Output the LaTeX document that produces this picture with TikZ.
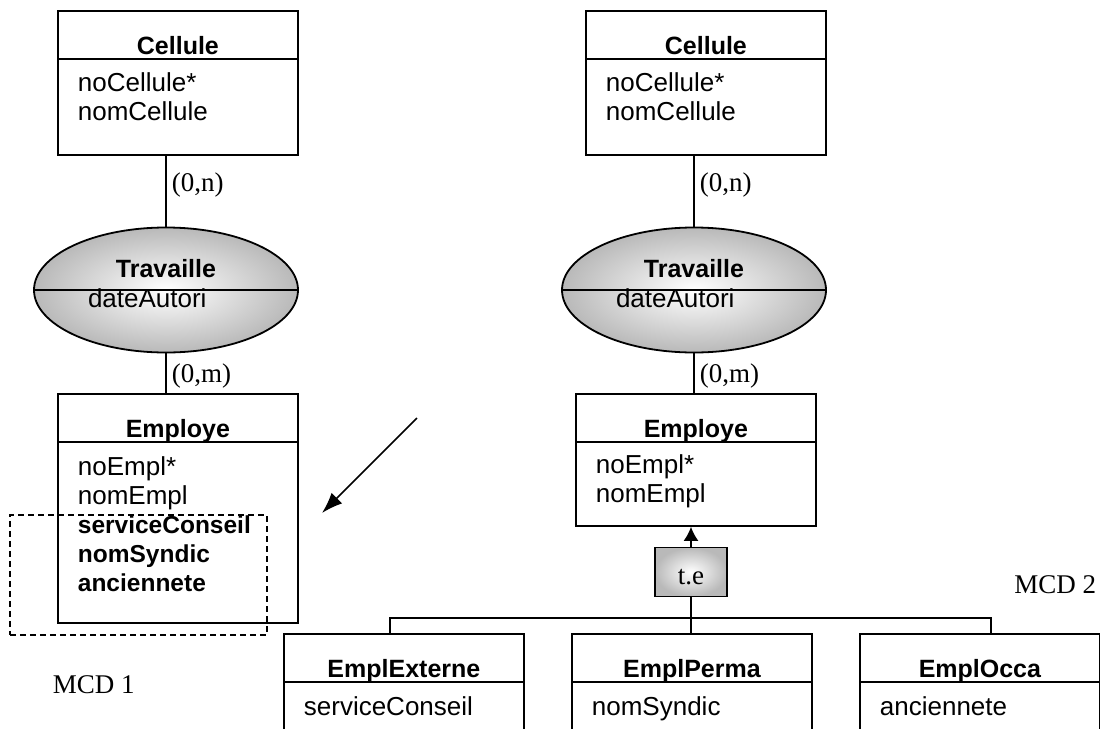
\documentclass[tikz,border=0pt]{standalone}
\usepackage{fontspec}
\setmainfont{Liberation Serif}
\setsansfont{Liberation Sans}
\usetikzlibrary{shapes.geometric, arrows.meta}

\begin{document}
\begin{tikzpicture}[x=1pt, y=-1pt, line width=1.8pt,
      box/.style={draw, minimum width=240pt, inner sep=0pt, anchor=north west},
      asso/.style={ellipse, draw, minimum width=264pt, minimum height=125pt, inner sep=0pt,
        shading=radial, inner color=white, outer color=gray!55},
      ttl/.style={font=\sffamily\bfseries\fontsize{25}{29}\selectfont, anchor=base, inner sep=0pt},
      attr/.style={font=\sffamily\fontsize{26}{29}\selectfont, anchor=base west, inner sep=0pt},
      battr/.style={attr, font=\sffamily\bfseries\fontsize{24.5}{29}\selectfont},
      card/.style={font=\fontsize{27}{30}\selectfont, anchor=base west, inner sep=0pt}]
      \clip (0,0) rectangle (1100,728);
      % MCD 1
      \node[box, minimum height=144] (cel1) at (57,10) {};
      \node[asso] (trav1) at (166,290) {};
      \node[box, minimum height=229] (emp1) at (57,393) {};
      % MCD 2
      \node[box, minimum height=144] (cel2) at (585,10) {};
      \node[asso] (trav2) at (694,290) {};
      \node[box, minimum height=132] (emp2) at (575,393) {};
      \node[draw, minimum width=72, minimum height=49, text height=24, text depth=0,
        shading=radial, inner color=white, outer color=gray!55,
        font=\fontsize{27}{30}\selectfont] (te) at (691,572) {t.e};
      \node[box, minimum height=130] (ext) at (283,633) {};
      \node[box, minimum height=130] (perma) at (571,633) {};
      \node[box, minimum height=130] (occa) at (859,633) {};

      \foreach \b/\t in {cel1/Cellule, cel2/Cellule, emp1/Employe, emp2/Employe,
          ext/EmplExterne, perma/EmplPerma, occa/EmplOcca}{
        \draw ([yshift=-49]\b.north west) -- ([yshift=-49]\b.north east);
        \node[ttl] (ttl-\b) at ([yshift=-44]\b.north) {\t};
      }
      \foreach \a in {trav1, trav2}{
        \draw (\a.west) -- (\a.east);
        \node[ttl] (ttl-\a) at ([yshift=13]\a.center) {Travaille};
        \node[attr] (att-\a) at ([xshift=54,yshift=-17]\a.west) {dateAutori};
      }

      % attributes, one node per line
      \foreach \b/\s/\t [count=\i] in {cel1/attr/noCellule*, cel1/attr/nomCellule,
          cel2/attr/noCellule*, cel2/attr/nomCellule}
        \node[\s] (att-\i) at ([xshift=20,yshift={-81-29*mod(\i+1,2)}]\b.north west) {\t};
      \foreach \s/\t [count=\i] in {attr/noEmpl*, attr/nomEmpl, battr/serviceConseil,
          battr/nomSyndic, battr/anciennete}
        \node[\s] (att-emp1-\i) at ([xshift=20,yshift={-82-29*(\i-1)}]emp1.north west) {\t};
      \node[attr] (att-emp2-1) at ([xshift=20,yshift=-80]emp2.north west) {noEmpl*};
      \node[attr] (att-emp2-2) at ([xshift=20,yshift=-109]emp2.north west) {nomEmpl};
      \node[attr] (att-ext) at ([xshift=20,yshift=-82]ext.north west) {serviceConseil};
      \node[attr] (att-perma) at ([xshift=20,yshift=-82]perma.north west) {nomSyndic};
      \node[attr] (att-occa) at ([xshift=20,yshift=-82]occa.north west) {anciennete};

      % links and cardinalities
      \foreach \c/\a/\e in {cel1/trav1/emp1, cel2/trav2/emp2}{
        \draw (\c.south -| \a.north) -- (\a.north);
        \draw (\a.south) -- (\a.south |- \e.north);
        \node[card] (n-\a) at ([xshift=5,yshift=-36]\c.south -| \a.north) {(0,n)};
        \node[card] (m-\a) at ([xshift=5,yshift=11]\e.north -| \a.south) {(0,m)};
      }

      % specialisation
      \draw[-{Latex[length=14pt,width=15pt]}] (te.north) -- (te.north |- emp2.south);
      \draw (te.south) -- (te.south |- perma.north);
      \coordinate (fork) at (691,618);
      \draw ([xshift=-14]ext.north) |- (fork) -| ([xshift=11]occa.north);

      % regrouped attributes
      \node[draw, line width=1.7pt, dash pattern=on 6pt off 4pt, minimum width=257, minimum height=120,
        inner sep=0pt, anchor=north west] (grp) at (9,514) {};
      \coordinate (from) at (417,418);
      \coordinate (to) at (322,513);
      \draw[line width=1.7pt, -{Latex[length=21pt,width=15pt]}] (from) -- (to);

      \node[card] (mcd1) at (52,693) {MCD 1};
      \node[card, anchor=base east] (mcd2) at (1097,593) {MCD 2};
\end{tikzpicture}
\end{document}
